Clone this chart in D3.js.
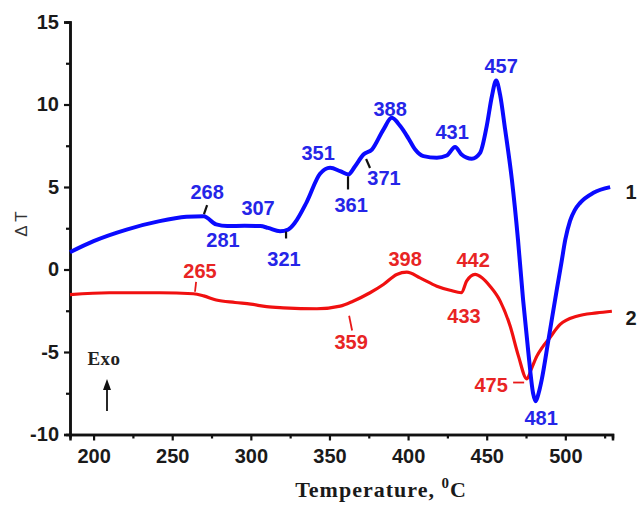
<!DOCTYPE html>
<html>
<head>
<meta charset="utf-8">
<script src="https://cdn.jsdelivr.net/npm/d3@7"></script>
<style>
  body { margin: 0; background: #fff; }
  svg { display: block; }
</style>
</head>
<body>
<div id="chart"></div>
<script>
// curve 1 (blue)
const tempBlue = [185, 200, 221, 242, 259, 270, 278, 285, 296, 306, 311, 318.6, 323.7, 328, 335.6, 344, 350.4, 356.8, 362, 366.3, 371.6, 377, 384.3, 389.6, 395, 400, 404.5, 409.8, 418.3, 424.6, 429.9, 434, 440.5, 445.8, 450, 453.3, 456, 458.5, 461.7, 466, 469.9, 473.1, 476.3, 479.5, 481.2, 483, 485, 489.3, 494.6, 497.5, 500, 503, 506, 509.4, 517.9, 528.5];
const dtBlue   = [1.05, 1.72, 2.42, 2.93, 3.19, 3.23, 2.73, 2.63, 2.65, 2.63, 2.52, 2.32, 2.42, 2.83, 4.1, 5.8, 6.16, 5.96, 5.76, 6.26, 6.97, 7.27, 8.48, 9.19, 8.69, 7.98, 7.27, 6.87, 6.77, 6.91, 7.43, 6.97, 6.71, 7.07, 8.69, 10.5, 11.45, 10.6, 8.5, 5.45, 1.8, -1.8, -4.85, -7.5, -7.98, -7.5, -6.67, -4.24, -1.2, 0.4, 1.82, 2.95, 3.6, 4.04, 4.65, 4.99];

// curve 2 (red)
const tempRed = [185, 210, 242, 263.4, 270, 278, 290, 300, 310, 320.7, 342, 356.8, 365, 375.8, 384.3, 392.8, 399.2, 407.6, 418.3, 426.7, 434, 437.2, 442.6, 447, 452, 458.5, 464.9, 470.2, 475.5, 478.5, 481.9, 485.5, 489.3, 496.7, 507.3, 520, 529.6];
const dtRed   = [-1.52, -1.41, -1.41, -1.47, -1.6, -1.85, -2.0, -2.1, -2.25, -2.32, -2.38, -2.22, -1.92, -1.41, -0.91, -0.3, -0.16, -0.51, -1.01, -1.26, -1.41, -0.71, -0.3, -0.5, -1.0, -1.9, -3.43, -5.25, -6.63, -6.0, -5.25, -4.7, -4.24, -3.33, -2.83, -2.63, -2.53];

// peak labels: text, temperature and ΔT where the label sits
const labelsBlue = ['268', '281', '307', '321', '351', '361', '371', '388', '431', '457', '481'];
const labelBlueT = [272.2, 282.3, 304.6, 321.1, 342.8, 363.8, 384.7, 388.6, 428, 459.2, 484.6];
const labelBlueV = [4.73, 1.82, 3.76, 0.67, 7.09, 3.94, 5.58, 9.76, 8.36, 12.36, -8.97];

const labelsRed = ['265', '359', '398', '442', '433', '475'];
const labelRedT = [267.7, 363.8, 398.1, 441.4, 435.6, 452.8];
const labelRedV = [-0.06, -4.36, 0.67, 0.61, -2.79, -6.97];

// pointer marks [T1, v1, T2, v2]
const pointersBlue = [[270.2, 3.35, 272.2, 3.9], [322.4, 1.88, 322.4, 2.3], [361.8, 4.85, 361.8, 5.65], [375.8, 6.15, 373.3, 6.7]];
const pointersRed = [[264.5, -1.35, 265.2, -0.75], [364.4, -3.7, 362.5, -2.8], [466.8, -6.85, 473.8, -6.85]];

const xTicks = [200, 250, 300, 350, 400, 450, 500];
const yTicks = [-10, -5, 0, 5, 10, 15];

const width = 638, height = 505;
const margin = { top: 22, right: 25, bottom: 71, left: 70 };

const svg = d3.select('#chart').append('svg')
  .attr('width', width)
  .attr('height', height);

svg.append('rect').attr('width', width).attr('height', height).attr('fill', '#fff');

const x = d3.scaleLinear().domain([185, 530]).range([margin.left, 612.5]);
const y = d3.scaleLinear().domain([-10, 15]).range([434.5, margin.top]);

const sans = '"Liberation Sans", Arial, sans-serif';
const serif = '"Liberation Serif", "Times New Roman", serif';

// axes
const xAxis = svg.append('g')
  .attr('transform', `translate(0, ${y(-10)})`)
  .call(d3.axisBottom(x).tickValues(xTicks).tickSize(6).tickPadding(8).tickFormat(d => String(d)));
const xMinor = svg.append('g')
  .attr('transform', `translate(0, ${y(-10)})`)
  .call(d3.axisBottom(x).tickValues(d3.range(225, 530, 50)).tickSize(4).tickFormat(''));

const yAxis = svg.append('g')
  .attr('transform', `translate(${x(185)}, 0)`)
  .call(d3.axisLeft(y).tickValues(yTicks).tickSize(6).tickPadding(5).tickFormat(d => String(d)));
const yMinor = svg.append('g')
  .attr('transform', `translate(${x(185)}, 0)`)
  .call(d3.axisLeft(y).tickValues([-7.5, -2.5, 2.5, 7.5, 12.5]).tickSize(4).tickFormat(''));

[xAxis, xMinor, yAxis, yMinor].forEach(g => {
  g.select('.domain').attr('stroke', '#111').attr('stroke-width', 2.5);
  g.selectAll('.tick line').attr('stroke', '#111').attr('stroke-width', 2.2);
  g.selectAll('.tick text')
    .attr('fill', '#1a1a1a')
    .attr('font-family', sans)
    .attr('font-weight', 'bold')
    .attr('font-size', '20px');
});

// curves
const line = d3.line()
  .x(d => x(d[0]))
  .y(d => y(d[1]))
  .curve(d3.curveMonotoneX);

svg.append('path')
  .datum(tempRed.map((t, i) => [t, dtRed[i]]))
  .attr('d', line)
  .attr('fill', 'none')
  .attr('stroke', '#f01010')
  .attr('stroke-width', 3.2);

svg.append('path')
  .datum(tempBlue.map((t, i) => [t, dtBlue[i]]))
  .attr('d', line)
  .attr('fill', 'none')
  .attr('stroke', '#0a0aff')
  .attr('stroke-width', 4);

// pointer marks
svg.selectAll('.ptr-blue')
  .data(pointersBlue)
  .enter().append('line')
  .attr('x1', d => x(d[0])).attr('y1', d => y(d[1]))
  .attr('x2', d => x(d[2])).attr('y2', d => y(d[3]))
  .attr('stroke', '#111').attr('stroke-width', 2.2);

svg.selectAll('.ptr-red')
  .data(pointersRed)
  .enter().append('line')
  .attr('x1', d => x(d[0])).attr('y1', d => y(d[1]))
  .attr('x2', d => x(d[2])).attr('y2', d => y(d[3]))
  .attr('stroke', '#e81818').attr('stroke-width', 1.8);

// peak labels
function addLabels(texts, ts, vs, color) {
  svg.append('g').selectAll('text')
    .data(texts)
    .enter().append('text')
    .attr('x', (d, i) => x(ts[i]))
    .attr('y', (d, i) => y(vs[i]))
    .attr('dy', '0.36em')
    .attr('text-anchor', 'middle')
    .attr('font-family', sans)
    .attr('font-weight', 'bold')
    .attr('font-size', '20px')
    .attr('fill', color)
    .text(d => d);
}
addLabels(labelsBlue, labelBlueT, labelBlueV, '#2525e8');
addLabels(labelsRed, labelRedT, labelRedV, '#e82424');

// curve numbers
svg.append('text')
  .attr('x', 631).attr('y', y(4.7)).attr('dy', '0.36em')
  .attr('text-anchor', 'middle')
  .attr('font-family', sans).attr('font-weight', 'bold').attr('font-size', '20px')
  .attr('fill', '#1a1a1a')
  .text('1');
svg.append('text')
  .attr('x', 631).attr('y', y(-2.9)).attr('dy', '0.36em')
  .attr('text-anchor', 'middle')
  .attr('font-family', sans).attr('font-weight', 'bold').attr('font-size', '20px')
  .attr('fill', '#1a1a1a')
  .text('2');

// Exo marker
svg.append('text')
  .attr('x', 104).attr('y', 365)
  .attr('text-anchor', 'middle')
  .attr('font-family', serif).attr('font-weight', 'bold').attr('font-size', '19px')
  .attr('fill', '#222')
  .attr('letter-spacing', '0.5px')
  .text('Exo');
svg.append('line')
  .attr('x1', 107).attr('y1', 411).attr('x2', 107).attr('y2', 385)
  .attr('stroke', '#111').attr('stroke-width', 1.8);
svg.append('path')
  .attr('d', 'M107,379 L103,390 L111,390 Z')
  .attr('fill', '#111');

// axis titles
const xt = svg.append('text')
  .attr('x', 381).attr('y', 497)
  .attr('text-anchor', 'middle')
  .attr('font-family', serif).attr('font-weight', 'bold').attr('font-size', '22px')
  .attr('letter-spacing', '1px')
  .attr('fill', '#1a1a1a');
xt.append('tspan').text('Temperature, ');
xt.append('tspan').attr('dy', -9).attr('font-size', '15px').text('0');
xt.append('tspan').attr('dy', 9).text('C');

svg.append('text')
  .attr('transform', 'translate(27, 224) rotate(-90)')
  .attr('text-anchor', 'middle')
  .attr('font-family', sans).attr('font-size', '17px')
  .attr('fill', '#333')
  .text('Δ T');
</script>
</body>
</html>
